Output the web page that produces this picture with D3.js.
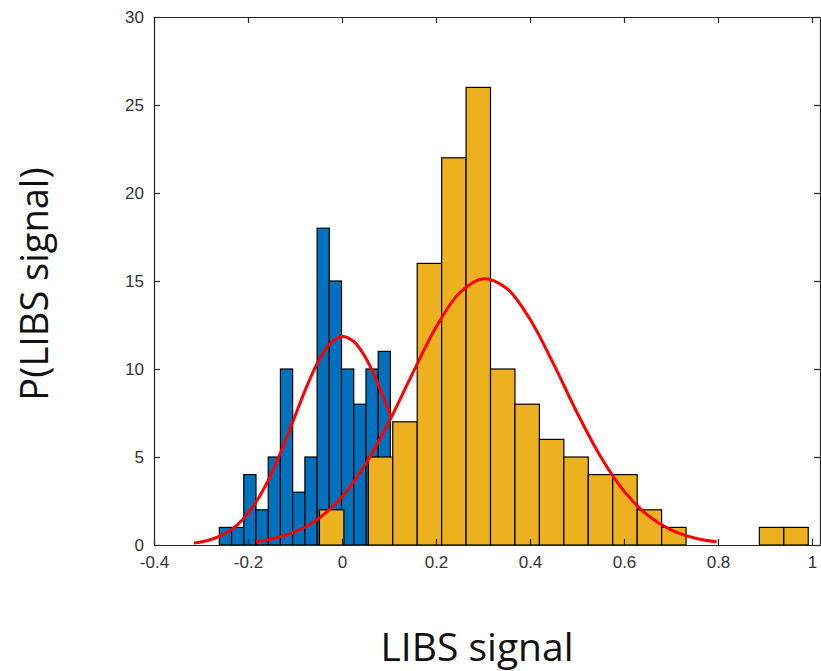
<!DOCTYPE html>
<html lang="en">
<meta charset="utf-8">
<title>LIBS signal histogram</title>
<head>
<style>
  body { margin: 0; background: #fff; }
</style>
</head>
<body>
  <script src="https://d3js.org/d3.v7.min.js"></script>
  <div id="chart"></div>
  <script>

    // histogram bins (start, width) and counts
    var blueStart = -0.261, blueWidth = 0.026;
    var blueCounts = [1, 1, 4, 2, 5, 10, 3, 5, 18, 15, 10, 8, 10, 11];

    var yellowStart = -0.048, yellowWidth = 0.052;
    var yellowCounts = [2, 0, 5, 7, 16, 22, 26, 10, 8, 6, 5, 4, 4, 2, 1, 0, 0, 0, 1, 1];

    // fitted curves, points [x, value]
    var blueFit = [[-0.315, 0.11], [-0.3, 0.17], [-0.275, 0.34], [-0.25, 0.63], [-0.225, 1.09],
      [-0.2, 1.8], [-0.175, 2.78], [-0.15, 4.07], [-0.125, 5.62], [-0.1, 7.32], [-0.075, 9.01],
      [-0.05, 10.46], [-0.025, 11.46], [0, 11.85], [0.025, 11.56], [0.05, 10.65], [0.075, 9.26],
      [0.1, 7.6], [0.104, 7.32]];

    var yellowFit = [[-0.183, 0.19], [-0.15, 0.34], [-0.1, 0.74], [-0.05, 1.5], [0, 2.74],
      [0.05, 4.59], [0.1, 7.0], [0.15, 9.74], [0.2, 12.37], [0.25, 14.32], [0.3, 15.13],
      [0.35, 14.59], [0.4, 12.83], [0.45, 10.29], [0.5, 7.53], [0.55, 5.03], [0.6, 3.06],
      [0.65, 1.7], [0.7, 0.86], [0.75, 0.4], [0.797, 0.18]];

    var xTicks = [-0.4, -0.2, 0, 0.2, 0.4, 0.6, 0.8, 1];
    var xTickLabels = ["-0.4", "-0.2", "0", "0.2", "0.4", "0.6", "0.8", "1"];
    var yTicks = [0, 5, 10, 15, 20, 25, 30];

    var W = 821, H = 671;
    // plot box edges (don't call these top/left: window.top is read-only)
    var plotL = 154, plotR = 820, plotT = 17, plotB = 545;

    var svg = d3.select("#chart").append("svg")
      .attr("width", W)
      .attr("height", H);

    var x = d3.scaleLinear().domain([-0.4, 1.017]).range([plotL, plotR]);
    var y = d3.scaleLinear().domain([0, 30]).range([plotB, plotT]);

    function bins(start, width, counts) {
      return counts.map(function (c, i) {
        return { x0: start + i * width, x1: start + (i + 1) * width, n: c };
      }).filter(function (d) { return d.n > 0; });
    }

    function drawBars(data, color) {
      svg.append("g").selectAll("rect")
        .data(data)
        .enter()
        .append("rect")
        .attr("x", d => x(d.x0))
        .attr("width", d => x(d.x1) - x(d.x0))
        .attr("y", d => y(d.n))
        .attr("height", d => y(0) - y(d.n))
        .attr("fill", color)
        .attr("stroke", "#000")
        .attr("stroke-width", 1.2);
    }

    drawBars(bins(blueStart, blueWidth, blueCounts), "#0072BD");
    drawBars(bins(yellowStart, yellowWidth, yellowCounts), "#EDB120");

    var line = d3.line()
      .curve(d3.curveCatmullRom)
      .x(d => x(d[0]))
      .y(d => y(d[1]));

    [blueFit, yellowFit].forEach(function (pts) {
      svg.append("path")
        .datum(pts)
        .attr("fill", "none")
        .attr("stroke", "#FF0000")
        .attr("stroke-width", 3)
        .attr("d", line);
    });

    // axes, ticks pointing inward like matlab
    var fmt = d => xTickLabels[xTicks.indexOf(d)];
    svg.append("g")
      .attr("transform", "translate(0," + plotB + ")")
      .call(d3.axisBottom(x).tickValues(xTicks).tickFormat(fmt).tickSizeInner(-6).tickSizeOuter(0).tickPadding(11));
    svg.append("g")
      .attr("transform", "translate(0," + plotT + ")")
      .call(d3.axisTop(x).tickValues(xTicks).tickFormat("").tickSizeInner(-6).tickSizeOuter(0));
    svg.append("g")
      .attr("transform", "translate(" + plotL + ",0)")
      .call(d3.axisLeft(y).tickValues(yTicks).tickSizeInner(-6).tickSizeOuter(0).tickPadding(10));
    svg.append("g")
      .attr("transform", "translate(" + plotR + ",0)")
      .call(d3.axisRight(y).tickValues(yTicks).tickFormat("").tickSizeInner(-6).tickSizeOuter(0));

    svg.selectAll(".domain, .tick line").attr("stroke", "#262626").attr("stroke-width", 1.2);
    svg.selectAll(".tick text")
      .attr("fill", "#333")
      .style("font-family", "'Liberation Sans', Arial, sans-serif")
      .style("font-size", "17px");

    svg.append("text")
      .attr("x", 477)
      .attr("y", 661)
      .attr("text-anchor", "middle")
      .style("font-family", "'Open Sans', sans-serif")
      .style("font-size", "39px")
      .attr("fill", "#111")
      .text("LIBS signal");

    svg.append("text")
      .attr("transform", "translate(48,284) rotate(-90)")
      .attr("text-anchor", "middle")
      .style("font-family", "'Open Sans', sans-serif")
      .style("font-size", "38px")
      .attr("fill", "#111")
      .text("P(LIBS signal)");

  </script>
</body>
</html>
